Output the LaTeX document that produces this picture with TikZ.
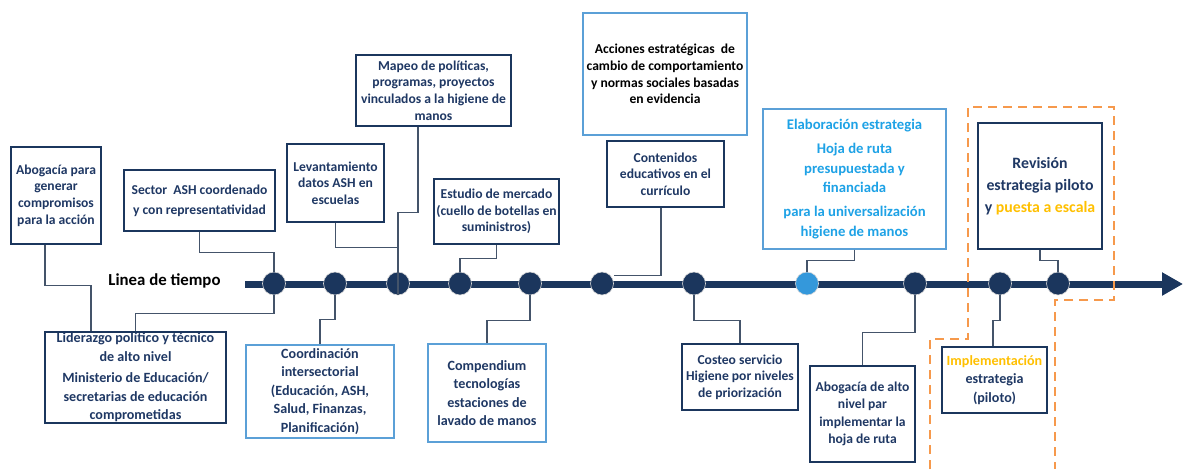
\documentclass[tikz,border=0pt]{standalone}
\usepackage{fontspec}
\setmainfont{Carlito}
\usepackage{tikz}
\usetikzlibrary{arrows.meta}
\definecolor{navy}{RGB}{27,54,93}
\definecolor{boxtext}{RGB}{31,56,100}
\definecolor{skyline}{RGB}{91,160,215}
\definecolor{skytext}{RGB}{30,162,230}
\definecolor{dotblue}{RGB}{52,152,219}
\definecolor{slate}{RGB}{68,84,106}
\definecolor{gold}{RGB}{255,192,0}
\definecolor{pilot}{RGB}{246,153,76}
\tikzstyle{block} = [draw=navy, line width=1.2pt, fill=white, rectangle,
    text=boxtext, align=center, inner sep=1pt,
    font=\bfseries\fontsize{13.6}{16.7}\selectfont]
\tikzstyle{lightblock} = [block, draw=skyline]
\tikzstyle{roomy} = [font=\bfseries\fontsize{14.1}{18.5}\selectfont]
\tikzstyle{dot} = [circle, draw=white!85!black, line width=0.6pt,
    minimum size=23pt, inner sep=0pt]
\tikzstyle{link} = [draw=slate, line width=1.3pt]
\tikzstyle{timeline} = [draw=navy, line width=7pt, -{Triangle[length=21pt,width=22pt]}]
\tikzstyle{pilotzone} = [draw=pilot, line width=2.5pt, dash pattern=on 9pt off 6pt]

\begin{document}
\begin{tikzpicture}[x=1pt, y=-1pt]
    \useasboundingbox (0,0) rectangle (1186,469);
    % We start with the time line and its milestones
    \coordinate (tstart) at (245,284);
    \coordinate (tend) at (1183,284);
    \draw [timeline] (tstart) -- (tend);
    \node [font=\bfseries\fontsize{16.8}{18}\selectfont, name=label] at (164.5,281) {Linea de tiempo};
    \foreach \x/\c [count=\i] in {274/navy,335/navy,398/navy,460/navy,530/navy,
        602/navy,694/navy,807/dotblue,915/navy,1000/navy,1058/navy}
        \node [dot, fill=\c] (d\i) at (\x,283.5) {};

    % Blocks above the line
    \node [block, minimum width=90pt, minimum height=97pt] (abog) at (56,195.5)
        {Abogacía para\\ generar\\ compromisos\\ para la acción};
    \node [block, minimum width=151pt, minimum height=61pt,
        font=\bfseries\fontsize{13.6}{20}\selectfont] (sector) at (199.5,200.5)
        {Sector\ \ ASH coordenado\\ y con representatividad};
    \node [block, minimum width=97pt, minimum height=78pt] (levant) at (335.5,183)
        {Levantamiento\\ datos ASH en\\ escuelas};
    \node [block, minimum width=155pt, minimum height=71pt] (mapeo) at (433.5,90.5)
        {Mapeo de políticas,\\ programas, proyectos\\ vinculados a la higiene de\\ manos};
    \node [block, minimum width=125pt, minimum height=65pt] (estudio) at (496.5,211.5)
        {Estudio de mercado\\ (cuello de botellas en\\ suministros)};
    \node [lightblock, text=black, minimum width=164pt, minimum height=122pt] (acciones) at (665,74)
        {Acciones estratégicas\ \ de\\ cambio de comportamiento\\ y normas sociales basadas\\ en evidencia};
    \node [block, minimum width=117pt, minimum height=66pt] (conten) at (665.5,174)
        {Contenidos\\ educativos en el\\ currículo};
    \node [lightblock, text=skytext, minimum width=183pt, minimum height=140pt,
        font=\bfseries\fontsize{14.7}{19.3}\selectfont] (elab) at (854.5,179)
        {Elaboración estrategia\\[5pt] Hoja de ruta\\ presupuestada y\\ financiada\\[5pt]
         para la universalización\\ higiene de manos};
    \node [block, minimum width=124pt, minimum height=126pt,
        font=\bfseries\fontsize{15.8}{21.7}\selectfont] (revis) at (1040,186)
        {Revisión\\ estrategia piloto\\ y {\color{gold}puesta a escala}};

    % Blocks below the line
    \node [block, roomy, minimum width=181pt, minimum height=91pt] (lider) at (135.5,377.5)
        {Liderazgo político y técnico\\ de alto nivel\\[3pt] Ministerio de Educación/\\
         secretarias de educación\\ comprometidas};
    \node [lightblock, roomy, minimum width=148pt, minimum height=93pt] (coord) at (320,391.5)
        {Coordinación\\ intersectorial\\ (Educación, ASH,\\ Salud, Finanzas,\\ Planificación)};
    \node [lightblock, roomy, minimum width=118pt, minimum height=98pt] (compend) at (487,393)
        {Compendium\\ tecnologías\\ estaciones de\\ lavado de manos};
    \node [block, minimum width=116pt, minimum height=66pt] (costeo) at (740,377)
        {Costeo servicio\\ Higiene por niveles\\ de priorización};
    \node [block, font=\bfseries\fontsize{13.6}{17.5}\selectfont, minimum width=105pt,
        minimum height=96pt] (abogalto) at (862.5,414)
        {Abogacía de alto\\ nivel par\\ implementar la\\ hoja de ruta};
    \node [block, roomy, minimum width=105pt, minimum height=66pt] (implem) at (994.5,380)
        {{\color{gold}Implementación}\\ estrategia\\ (piloto)};

    % We connect the blocks with the milestones
    \draw [link] ([xshift=-11pt]abog.south) -- ++(0,41) -| ([xshift=-44.5pt]lider.north);
    \draw [link] (sector.south) -- ++(0,21) -| (d1.north);
    \draw [link] (d1.south) -- ++(0,18) -| (lider.north);
    \draw [link] (d2.south) -- ++(0,24) -| (coord.north);
    \draw [link] (levant.south) -- ++(0,25) -| (d3.north);
    \draw [link] ([xshift=-15.5pt]mapeo.south) -- ++(0,86) -| (d3.south);
    \draw [link] (estudio.south) -- ++(0,14) -| (d4.north);
    \draw [link] (d5.south) -- ++(0,25) -| (compend.north);
    \draw [link] ([xshift=-4.5pt]conten.south) |- ([yshift=8pt]d6.east);
    \draw [link] (d7.south) -- ++(0,25) -| (costeo.north);
    \draw [link] (elab.south) -- ++(0,11) -| (d8.north);
    \draw [link] (d9.south) -- ++(0,37) -| (abogalto.north);
    \draw [link] (revis.south) -- ++(0,11) -| (d11.north);
    \draw [link] (d10.south) -- ++(0,25) -| ([xshift=-1.5pt]implem.north);

    % Pilot zone
    \draw [pilotzone] (930,469) -- (930,339) -- (968,339) -- (968,107) -- (1114,107)
        -- (1114,300) -- (1055,300) -- (1055,469);
\end{tikzpicture}
\end{document}
